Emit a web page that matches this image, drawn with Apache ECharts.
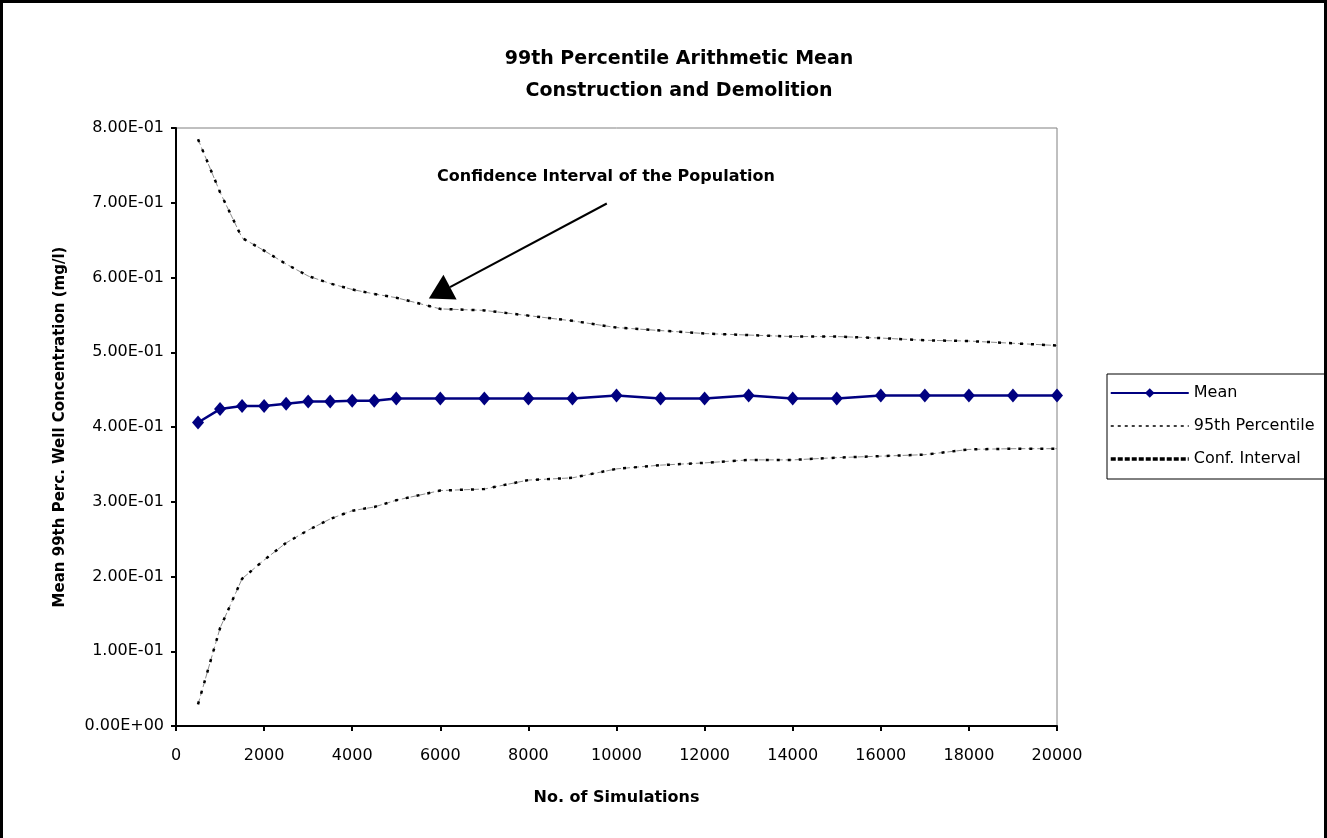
<!DOCTYPE html>
<html>
<head>
<meta charset="utf-8">
<script src="https://cdn.jsdelivr.net/npm/echarts@6/dist/echarts.min.js"></script>
<style>
html,body{margin:0;padding:0;background:#fff;}
#chart{width:1327px;height:838px;}
</style>
</head>
<body>
<div id="chart"></div>
<script>
// ---- data ----
var simulations = [500,1000,1500,2000,2500,3000,3500,4000,4500,5000,6000,7000,8000,9000,10000,11000,12000,13000,14000,15000,16000,17000,18000,19000,20000];
var meanValues = [0.406,0.424,0.428,0.428,0.431,0.434,0.434,0.435,0.435,0.438,0.438,0.438,0.438,0.438,0.442,0.438,0.438,0.442,0.438,0.438,0.442,0.442,0.442,0.442,0.442];
var upperBound = [0.785,0.714,0.653,0.636,0.618,0.602,0.592,0.584,0.578,0.573,0.558,0.556,0.549,0.542,0.533,0.529,0.525,0.523,0.521,0.521,0.519,0.516,0.515,0.512,0.509];
var lowerBound = [0.029,0.131,0.197,0.222,0.245,0.262,0.277,0.288,0.293,0.302,0.315,0.317,0.329,0.332,0.344,0.349,0.352,0.356,0.356,0.359,0.361,0.363,0.370,0.371,0.371];
var xTicks = {min:0, max:20000, interval:2000};
var yTicks = {min:0, max:0.8, interval:0.1};
var titleLines = ['99th Percentile Arithmetic Mean','Construction and Demolition'];
var annotationText = 'Confidence Interval of the Population';
var arrowStart = [9780, 0.699];  // data coords
var arrowTip = [5740, 0.572];

function pairs(xs, ys){ return xs.map(function(x,i){ return [x, ys[i]]; }); }
function sci(v){
  if (v === 0) return '0.00E+00';
  var e = Math.floor(Math.log10(Math.abs(v)) + 1e-9);
  var m = v / Math.pow(10, e);
  var s = e < 0 ? '-' : '+';
  var a = Math.abs(e);
  return m.toFixed(2) + 'E' + s + (a < 10 ? '0' + a : '' + a);
}

var FONT = 'DejaVu Sans';
var chart = echarts.init(document.getElementById('chart'), null, {renderer:'canvas'});

var ls95 = {color:'#8c8c8c', width:1, type:[6,3]};
var lsCI = {color:'#000', width:2.5, type:[3,8]};

var option = {
  animation:false,
  backgroundColor:'#fff',
  title:{
    text: titleLines.join('\n'),
    left: 674, top: 38, textAlign:'center',
    textStyle:{fontFamily:FONT, fontWeight:'bold', fontSize:19, color:'#000', lineHeight:32}
  },
  grid:{left:176, right:270, top:128, bottom:112, show:true, borderColor:'#808080', borderWidth:1, backgroundColor:'#fff'},
  legend:{
    orient:'vertical', left:1107, top:374,
    itemWidth:78, itemHeight:12, itemGap:17,
    borderColor:'#000', borderWidth:1, padding:[11,30,12,2],
    textStyle:{fontFamily:FONT, fontSize:16, color:'#000'},
    data:[
      {name:'Mean'},
      {name:'95th Percentile', itemStyle:{opacity:0}, lineStyle:{color:'#000', width:1.5, type:[3,4]}},
      {name:'Conf. Interval', itemStyle:{opacity:0}, lineStyle:{color:'#000', width:3.5, type:[5,2]}}
    ]
  },
  xAxis:{
    type:'value', min:xTicks.min, max:xTicks.max, interval:xTicks.interval,
    name:'No. of Simulations', nameLocation:'middle', nameGap:64,
    nameTextStyle:{fontFamily:FONT, fontWeight:'bold', fontSize:16, color:'#000'},
    axisLine:{lineStyle:{color:'#000', width:2}},
    axisTick:{show:true, inside:false, length:5, lineStyle:{color:'#000', width:2}},
    axisLabel:{fontFamily:FONT, fontSize:16, color:'#000', margin:22, formatter:function(v){ return String(v); }},
    splitLine:{show:false}
  },
  yAxis:{
    type:'value', min:yTicks.min, max:yTicks.max, interval:yTicks.interval,
    name:'Mean 99th Perc. Well Concentration (mg/l)', nameLocation:'middle', nameGap:108,
    nameTextStyle:{fontFamily:FONT, fontWeight:'bold', fontSize:15, color:'#000'},
    axisLine:{show:true, lineStyle:{color:'#000', width:2}},
    axisTick:{show:true, inside:false, length:5, lineStyle:{color:'#000', width:2}},
    axisLabel:{fontFamily:FONT, fontSize:16, color:'#000', margin:12, formatter:sci},
    splitLine:{show:false}
  },
  series:[
    {name:'95th Percentile', type:'line', data:pairs(simulations, upperBound), symbol:'none', lineStyle:ls95, itemStyle:{color:'#000'}, z:2},
    {name:'95th Percentile', type:'line', data:pairs(simulations, lowerBound), symbol:'none', lineStyle:ls95, itemStyle:{color:'#000'}, z:2},
    {name:'Conf. Interval', type:'line', data:pairs(simulations, upperBound), symbol:'none', lineStyle:lsCI, itemStyle:{color:'#000'}, z:3},
    {name:'Conf. Interval', type:'line', data:pairs(simulations, lowerBound), symbol:'none', lineStyle:lsCI, itemStyle:{color:'#000'}, z:3},
    {name:'Mean', type:'line', data:pairs(simulations, meanValues), symbol:'diamond', symbolSize:[12,14],
     lineStyle:{color:'#000080', width:2.5}, itemStyle:{color:'#000080'}, z:5}
  ]
};
chart.setOption(option);

// annotation arrow positioned from data coordinates
var p0 = chart.convertToPixel({gridIndex:0}, arrowStart);
var p1 = chart.convertToPixel({gridIndex:0}, arrowTip);
var dx = p1[0]-p0[0], dy = p1[1]-p0[1], L = Math.sqrt(dx*dx+dy*dy);
var ux = dx/L, uy = dy/L, headLen = 24, headHalf = 14;
var bx = p1[0]-ux*headLen, by = p1[1]-uy*headLen;
chart.setOption({
  graphic:[
    {type:'line', shape:{x1:p0[0], y1:p0[1], x2:bx, y2:by}, style:{stroke:'#000', lineWidth:2}, z:10},
    {type:'polygon', shape:{points:[[p1[0],p1[1]],[bx-uy*headHalf, by+ux*headHalf],[bx+uy*headHalf, by-ux*headHalf]]}, style:{fill:'#000'}, z:10},
    {type:'text', x:606, y:177, style:{text:annotationText, align:'center', verticalAlign:'middle', fontFamily:FONT, fontWeight:'bold', fontSize:16, fill:'#000'}, z:10},
    {type:'rect', shape:{x:1.5, y:1.5, width:1324, height:900}, style:{fill:null, stroke:'#000', lineWidth:3}, z:20, silent:true}
  ]
});
</script>
</body>
</html>
